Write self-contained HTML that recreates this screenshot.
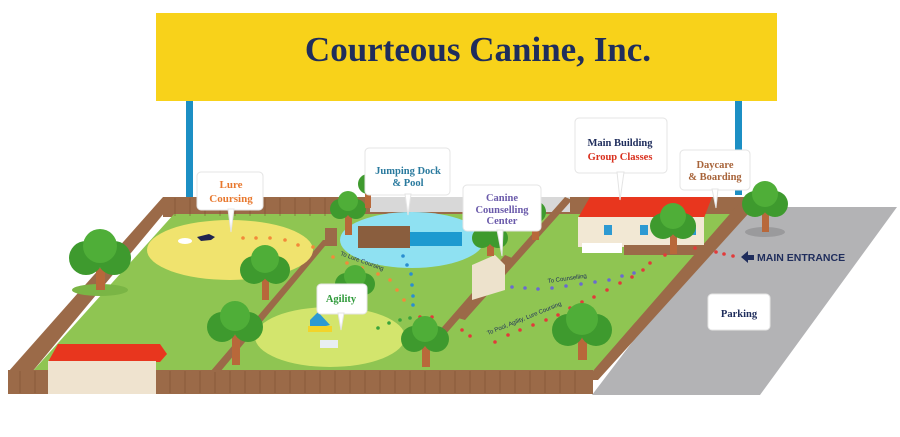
<!DOCTYPE html>
<html><head><style>
html,body{margin:0;padding:0;background:#fff;}
svg{display:block;}
text{font-family:"Liberation Serif",serif;font-weight:bold;}
</style></head><body>
<svg width="900" height="437" viewBox="0 0 900 437" xmlns="http://www.w3.org/2000/svg">
<rect width="900" height="437" fill="#fff"/>
<rect x="186" y="95" width="7" height="105" fill="#1c8fc4"/>
<rect x="735" y="95" width="7" height="100" fill="#1c8fc4"/>
<rect x="156" y="13" width="621" height="88" fill="#f8d21a"/>
<text x="478" y="61" font-size="35" fill="#1f2d5c" text-anchor="middle">Courteous Canine, Inc.</text>
<polygon points="735,207 897,207 760,395 592,395" fill="#b3b3b5"/>
<polygon points="163,197 745,197 745,217 163,217" fill="#9b6a48"/>
<polygon points="163,197 175,200 32,372 8,372" fill="#9b6a48"/>
<polygon points="174,214 742,214 592,372 32,372" fill="#8fc552"/>
<polygon points="742,200 748,200 748,214 598,380 592,380 592,372" fill="#9b6a48"/>
<rect x="8" y="370" width="585" height="24" fill="#9b6a48"/>
<g stroke="#7c4f32" stroke-width="1" opacity="0.6">
<path d="M20 371v22M35 371v22M50 371v22M65 371v22M80 371v22M95 371v22M110 371v22M125 371v22M140 371v22M155 371v22M170 371v22M185 371v22M200 371v22M215 371v22M230 371v22M245 371v22M260 371v22M275 371v22M290 371v22M305 371v22M320 371v22M335 371v22M350 371v22M365 371v22M380 371v22M395 371v22M410 371v22M425 371v22M440 371v22M455 371v22M470 371v22M485 371v22M500 371v22M515 371v22M530 371v22M545 371v22M560 371v22M575 371v22"/>
<path d="M175 198v18M190 198v18M205 198v18M220 198v18M235 198v18M250 198v18M265 198v18M280 198v18M295 198v18M310 198v18M325 198v18"/>
</g>
<rect x="370" y="197" width="200" height="15" fill="#d8d8d8"/>
<polygon points="323,240 330,240 220,372 210,372" fill="#9b6a48"/>
<polygon points="505,255 512,258 445,335 438,332" fill="#9b6a48"/>
<polygon points="565,197 572,200 465,320 458,318" fill="#9b6a48"/>
<rect x="325" y="228" width="12" height="18" fill="#9b6a48"/>
<ellipse cx="230" cy="250" rx="83" ry="30" fill="#f0e36e"/>
<ellipse cx="330" cy="337" rx="75" ry="30" fill="#d3e56d"/>
<ellipse cx="412" cy="240" rx="72" ry="28" fill="#8fe1f2"/>
<rect x="358" y="226" width="52" height="22" fill="#8a5e3e"/>
<rect x="410" y="232" width="52" height="14" fill="#1d9ad0"/>
<polygon points="472,265 495,255 505,265 505,290 472,300" fill="#ede2cc"/>
<polygon points="590,197 712,197 704,218 578,218" fill="#e8361e"/>
<rect x="578" y="217" width="126" height="30" fill="#f2e8d4"/>
<rect x="604" y="225" width="8" height="10" fill="#2d9ad2"/><rect x="640" y="225" width="8" height="10" fill="#2d9ad2"/><rect x="688" y="225" width="8" height="10" fill="#2d9ad2"/>
<rect x="582" y="243" width="40" height="10" fill="#fff"/>
<rect x="624" y="245" width="85" height="10" fill="#9b6a48"/>
<polygon points="48,362 58,344 160,344 167,354 160,362" fill="#e8361e"/>
<rect x="48" y="361" width="108" height="33" fill="#efe3cf"/>
<polygon points="310,320 318,312 330,325 310,330" fill="#2d9ad2"/>
<rect x="308" y="326" width="24" height="6" fill="#f2d42a"/>
<rect x="320" y="340" width="18" height="8" fill="#e8eef2"/>
<g fill="#f28a3a">
<circle cx="243" cy="238" r="1.8"/><circle cx="256" cy="238" r="1.8"/><circle cx="270" cy="238" r="1.8"/><circle cx="285" cy="240" r="1.8"/><circle cx="298" cy="245" r="1.8"/><circle cx="313" cy="247" r="1.8"/>
<circle cx="333" cy="257" r="1.8"/><circle cx="347" cy="263" r="1.8"/><circle cx="362" cy="268" r="1.8"/><circle cx="378" cy="274" r="1.8"/><circle cx="390" cy="280" r="1.8"/><circle cx="397" cy="290" r="1.8"/><circle cx="404" cy="300" r="1.8"/>
</g>
<g fill="#2a8ed0"><circle cx="403" cy="256" r="1.8"/><circle cx="407" cy="265" r="1.8"/><circle cx="411" cy="274" r="1.8"/><circle cx="412" cy="285" r="1.8"/><circle cx="413" cy="296" r="1.8"/><circle cx="413" cy="305" r="1.8"/></g>
<g fill="#3aa43a"><circle cx="378" cy="328" r="1.8"/><circle cx="389" cy="323" r="1.8"/><circle cx="400" cy="320" r="1.8"/><circle cx="410" cy="318" r="1.8"/></g>
<g fill="#e23a3a">
<circle cx="420" cy="317" r="1.8"/><circle cx="432" cy="317" r="1.8"/><circle cx="462" cy="330" r="1.8"/><circle cx="470" cy="336" r="1.8"/><circle cx="495" cy="342" r="1.8"/><circle cx="508" cy="335" r="1.8"/><circle cx="520" cy="330" r="1.8"/><circle cx="533" cy="325" r="1.8"/><circle cx="546" cy="320" r="1.8"/><circle cx="558" cy="315" r="1.8"/><circle cx="570" cy="308" r="1.8"/><circle cx="582" cy="302" r="1.8"/><circle cx="594" cy="297" r="1.8"/><circle cx="607" cy="290" r="1.8"/><circle cx="620" cy="283" r="1.8"/><circle cx="632" cy="277" r="1.8"/><circle cx="643" cy="270" r="1.8"/><circle cx="650" cy="263" r="1.8"/><circle cx="665" cy="255" r="1.8"/><circle cx="695" cy="248" r="1.8"/><circle cx="716" cy="252" r="1.8"/><circle cx="724" cy="254" r="1.8"/><circle cx="733" cy="256" r="1.8"/>
</g>
<g fill="#6a6ad0"><circle cx="512" cy="287" r="1.8"/><circle cx="525" cy="288" r="1.8"/><circle cx="538" cy="289" r="1.8"/><circle cx="552" cy="288" r="1.8"/><circle cx="566" cy="286" r="1.8"/><circle cx="581" cy="284" r="1.8"/><circle cx="595" cy="282" r="1.8"/><circle cx="609" cy="280" r="1.8"/><circle cx="622" cy="276" r="1.8"/><circle cx="634" cy="273" r="1.8"/></g>
<g font-size="6" fill="#1f2d5c">
<text x="340" y="255" transform="rotate(20 340 255)" style="font-weight:normal;font-family:'Liberation Sans',sans-serif">To Lure Coursing</text>
<text x="548" y="283" transform="rotate(-8 548 283)" style="font-weight:normal;font-family:'Liberation Sans',sans-serif">To Counselling</text>
<text x="488" y="335" transform="rotate(-22 488 335)" style="font-weight:normal;font-family:'Liberation Sans',sans-serif">To Pool, Agility, Lure Coursing</text>
</g>
<g>
<g transform="translate(100,268)"><ellipse cx="0" cy="22" rx="28" ry="6" fill="#7ab545"/><rect x="-4" y="0" width="9" height="22" fill="#b8683a"/><circle cx="-14" cy="-10" r="17" fill="#3e9a2e"/><circle cx="14" cy="-10" r="17" fill="#3e9a2e"/><circle cx="0" cy="-22" r="17" fill="#4fae38"/></g>
<g transform="translate(265,278)"><rect x="-3" y="0" width="7" height="22" fill="#b8683a"/><circle cx="-11" cy="-8" r="14" fill="#3e9a2e"/><circle cx="11" cy="-8" r="14" fill="#3e9a2e"/><circle cx="0" cy="-19" r="14" fill="#4fae38"/></g>
<g transform="translate(235,335)"><rect x="-3" y="0" width="8" height="30" fill="#b8683a"/><circle cx="-13" cy="-8" r="15" fill="#3e9a2e"/><circle cx="13" cy="-8" r="15" fill="#3e9a2e"/><circle cx="0" cy="-19" r="15" fill="#4fae38"/></g>
<g transform="translate(355,290)"><rect x="-3" y="0" width="7" height="20" fill="#b8683a"/><circle cx="-9" cy="-6" r="11" fill="#3e9a2e"/><circle cx="9" cy="-6" r="11" fill="#3e9a2e"/><circle cx="0" cy="-14" r="11" fill="#4fae38"/></g>
<g transform="translate(348,215)"><rect x="-3" y="0" width="7" height="20" fill="#b8683a"/><circle cx="-8" cy="-6" r="10" fill="#3e9a2e"/><circle cx="8" cy="-6" r="10" fill="#3e9a2e"/><circle cx="0" cy="-14" r="10" fill="#4fae38"/></g>
<g transform="translate(368,190)"><rect x="-3" y="0" width="6" height="18" fill="#b8683a"/><circle cx="0" cy="-6" r="10" fill="#3e9a2e"/></g>
<g transform="translate(425,345)"><rect x="-3" y="0" width="8" height="22" fill="#b8683a"/><circle cx="-11" cy="-6" r="13" fill="#3e9a2e"/><circle cx="11" cy="-6" r="13" fill="#3e9a2e"/><circle cx="0" cy="-16" r="13" fill="#4fae38"/></g>
<g transform="translate(490,242)"><rect x="-3" y="0" width="7" height="14" fill="#b8683a"/><circle cx="-8" cy="-4" r="10" fill="#3e9a2e"/><circle cx="8" cy="-4" r="10" fill="#3e9a2e"/></g>
<g transform="translate(535,220)"><rect x="-3" y="0" width="7" height="20" fill="#b8683a"/><circle cx="0" cy="-8" r="11" fill="#3e9a2e"/></g>
<g transform="translate(582,338)"><rect x="-4" y="0" width="9" height="22" fill="#b8683a"/><circle cx="-14" cy="-8" r="16" fill="#3e9a2e"/><circle cx="14" cy="-8" r="16" fill="#3e9a2e"/><circle cx="0" cy="-19" r="16" fill="#4fae38"/></g>
<g transform="translate(673,232)"><rect x="-3" y="0" width="7" height="22" fill="#b8683a"/><circle cx="-10" cy="-6" r="13" fill="#3e9a2e"/><circle cx="10" cy="-6" r="13" fill="#3e9a2e"/><circle cx="0" cy="-16" r="13" fill="#4fae38"/></g>
<g transform="translate(765,210)"><ellipse cx="0" cy="22" rx="20" ry="5" fill="#9a9a9c"/><rect x="-3" y="0" width="7" height="22" fill="#b8683a"/><circle cx="-10" cy="-6" r="13" fill="#3e9a2e"/><circle cx="10" cy="-6" r="13" fill="#3e9a2e"/><circle cx="0" cy="-16" r="13" fill="#4fae38"/></g>
</g>
<path d="M197 237 l12 -3 l6 3 l-4 3 l-10 1z" fill="#1f2450"/>
<ellipse cx="185" cy="241" rx="7" ry="3" fill="#fff"/>
<g fill="#fff" stroke="#e4e4e4" stroke-width="1">
<rect x="197" y="172" width="66" height="38" rx="4"/><polygon points="228,209 234,209 231,232"/>
<rect x="365" y="148" width="85" height="47" rx="4"/><polygon points="405,194 411,194 408,215"/>
<rect x="317" y="284" width="50" height="30" rx="4"/><polygon points="338,313 344,313 341,330"/>
<rect x="463" y="185" width="78" height="46" rx="4"/><polygon points="497,230 503,230 502,256"/>
<rect x="575" y="118" width="92" height="55" rx="4"/><polygon points="617,172 624,172 620,200"/>
<rect x="680" y="150" width="70" height="40" rx="4"/><polygon points="712,189 718,189 716,208"/>
<rect x="708" y="294" width="62" height="36" rx="4"/>
</g>
<text x="231" y="188" font-size="11" fill="#e8782e" text-anchor="middle">Lure</text>
<text x="231" y="202" font-size="11" fill="#e8782e" text-anchor="middle">Coursing</text>
<text x="408" y="174" font-size="10.5" fill="#2a7a9e" text-anchor="middle">Jumping Dock</text>
<text x="408" y="186" font-size="10.5" fill="#2a7a9e" text-anchor="middle">&amp; Pool</text>
<text x="341" y="302" font-size="10.5" fill="#2f9a3a" text-anchor="middle">Agility</text>
<text x="502" y="201" font-size="10.5" fill="#6a5aaa" text-anchor="middle">Canine</text>
<text x="502" y="213" font-size="10.5" fill="#6a5aaa" text-anchor="middle">Counselling</text>
<text x="502" y="224" font-size="10.5" fill="#6a5aaa" text-anchor="middle">Center</text>
<text x="620" y="146" font-size="10.5" fill="#1f2d5c" text-anchor="middle">Main Building</text>
<text x="620" y="160" font-size="10.5" fill="#d9301e" text-anchor="middle">Group Classes</text>
<text x="715" y="168" font-size="10.5" fill="#a8643a" text-anchor="middle">Daycare</text>
<text x="715" y="180" font-size="10.5" fill="#a8643a" text-anchor="middle">&amp; Boarding</text>
<text x="739" y="317" font-size="10.5" fill="#1f2d5c" text-anchor="middle">Parking</text>
<polygon points="741,257 748,251 748,255 754,255 754,260 748,260 748,263" fill="#1f2d5c"/>
<text x="757" y="261" font-size="10.5" fill="#1f2d5c" style="font-family:'Liberation Sans',sans-serif">MAIN ENTRANCE</text>
</svg>
</body></html>
